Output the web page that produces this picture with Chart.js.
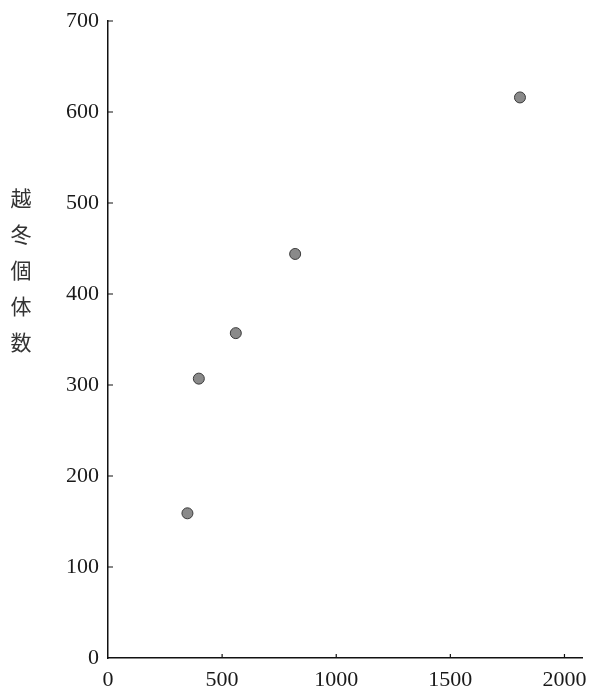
<!DOCTYPE html>
<html>
<head>
<meta charset="utf-8">
<script src="https://cdn.jsdelivr.net/npm/chart.js"></script>
<style>
  html, body { margin: 0; padding: 0; background: #fff; overflow: hidden; }
  #wrap { width: 589px; height: 689px; }
</style>
</head>
<body>
<div id="wrap"><canvas id="c"></canvas></div>
<script>
const xValues = [348, 398, 560, 820, 1805];
const yValues = [159, 307, 357, 444, 616];
const yTitleChars = ['越', '冬', '個', '体', '数'];
const xTicks = [0, 500, 1000, 1500, 2000];
const yTicks = [0, 100, 200, 300, 400, 500, 600, 700];

const tickFont = { family: "'Liberation Serif', serif", size: 22, lineHeight: 1 };

// small tick marks pointing into the plot, like the printed figure
const innerTicks = {
  id: 'innerTicks',
  afterDraw(chart) {
    const { ctx, scales: { x, y } } = chart;
    ctx.save();
    ctx.strokeStyle = '#111';
    ctx.lineWidth = 1.2;
    ctx.beginPath();
    yTicks.forEach(v => {
      if (v === 0) return;
      const py = y.getPixelForValue(v);
      ctx.moveTo(x.left, py);
      ctx.lineTo(x.left + 5, py);
    });
    xTicks.forEach(v => {
      if (v === 0) return;
      const px = x.getPixelForValue(v);
      ctx.moveTo(px, y.bottom);
      ctx.lineTo(px, y.bottom - 4);
    });
    ctx.stroke();
    ctx.restore();
  }
};

// y title as stacked characters
const stackedTitle = {
  id: 'stackedTitle',
  afterDraw(chart) {
    const { ctx } = chart;
    ctx.save();
    ctx.fillStyle = '#333';
    ctx.font = "21px 'Noto Sans CJK JP', sans-serif";
    ctx.textAlign = 'center';
    ctx.textBaseline = 'middle';
    yTitleChars.forEach((ch, i) => ctx.fillText(ch, 21, 198 + i * 36));
    ctx.restore();
  }
};

new Chart(document.getElementById('c'), {
  type: 'scatter',
  data: {
    datasets: [{
      data: xValues.map((v, i) => ({ x: v, y: yValues[i] })),
      backgroundColor: '#8a8a8a',
      borderColor: '#3a3a3a',
      borderWidth: 1,
      pointRadius: 5.5,
      pointHoverRadius: 5.5
    }]
  },
  options: {
    responsive: true,
    maintainAspectRatio: false,
    animation: false,
    layout: { padding: { left: 58, top: 21, right: 0, bottom: 0 } },
    plugins: { legend: { display: false }, tooltip: { enabled: false } },
    scales: {
      x: {
        type: 'linear',
        min: 0,
        max: 2079,
        afterBuildTicks: s => { s.ticks = xTicks.map(v => ({ value: v })); },
        afterFit: s => { s.height = 31; s.paddingLeft = 0; s.paddingRight = 0; },
        ticks: { font: tickFont, color: '#1a1a1a', padding: 3, maxRotation: 0, callback: v => String(v) },
        grid: { display: false },
        border: { display: true, color: '#111', width: 1.5 }
      },
      y: {
        min: 0,
        max: 700,
        afterBuildTicks: s => { s.ticks = yTicks.map(v => ({ value: v })); },
        afterFit: s => { s.width = 50; s.paddingTop = 0; s.paddingBottom = 0; },
        ticks: { font: tickFont, color: '#1a1a1a', padding: 1, callback: v => String(v) },
        grid: { display: false },
        border: { display: true, color: '#111', width: 1.5 }
      }
    }
  },
  plugins: [innerTicks, stackedTitle]
});
</script>
</body>
</html>
